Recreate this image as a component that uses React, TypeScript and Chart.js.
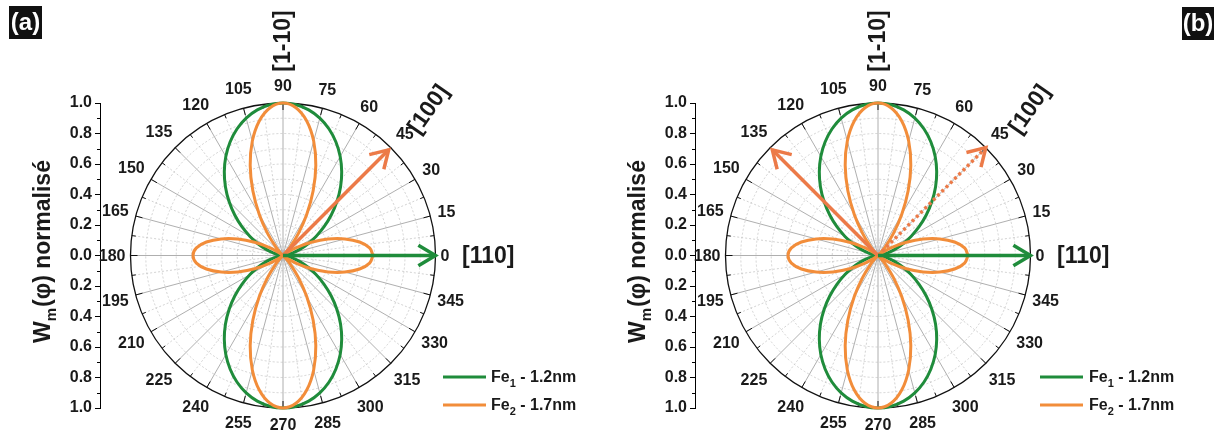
import React, { useEffect, useRef } from 'react';
import { Chart, registerables } from 'chart.js';
Chart.register(...registerables);

// ---------- data ----------
const ANGLES = [0, 5, 10, 15, 20, 25, 30, 35, 40, 45, 50, 55, 60, 65, 70, 75, 80, 85, 90, 95, 100, 105, 110, 115, 120, 125, 130, 135, 140, 145, 150, 155, 160, 165, 170, 175, 180, 185, 190, 195, 200, 205, 210, 215, 220, 225, 230, 235, 240, 245, 250, 255, 260, 265, 270, 275, 280, 285, 290, 295, 300, 305, 310, 315, 320, 325, 330, 335, 340, 345, 350, 355, 360];

const FE1 = [0, 0.008, 0.03, 0.067, 0.117, 0.179, 0.25, 0.329, 0.413, 0.5, 0.587, 0.671, 0.75, 0.821, 0.883, 0.933, 0.97, 0.992, 1.00,
  0.992, 0.97, 0.933, 0.883, 0.821, 0.75, 0.671, 0.587, 0.5, 0.413, 0.329, 0.25, 0.179, 0.117, 0.067, 0.03, 0.008, 0,
  0.008, 0.03, 0.067, 0.117, 0.179, 0.25, 0.329, 0.413, 0.5, 0.587, 0.671, 0.75, 0.821, 0.883, 0.933, 0.97, 0.992, 1.00,
  0.992, 0.97, 0.933, 0.883, 0.821, 0.75, 0.671, 0.587, 0.5, 0.413, 0.329, 0.25, 0.179, 0.117, 0.067, 0.03, 0.008, 0];

const FE2 = [0.59, 0.57, 0.51, 0.42, 0.315, 0.205, 0.106, 0.035, 0.002, 0.014, 0.073, 0.175, 0.311, 0.468, 0.629, 0.777, 0.896, 0.973, 1.00,
  0.973, 0.896, 0.777, 0.629, 0.468, 0.311, 0.175, 0.073, 0.014, 0.002, 0.035, 0.106, 0.205, 0.315, 0.42, 0.51, 0.57, 0.59,
  0.57, 0.51, 0.42, 0.315, 0.205, 0.106, 0.035, 0.002, 0.014, 0.073, 0.175, 0.311, 0.468, 0.629, 0.777, 0.896, 0.973, 1.00,
  0.973, 0.896, 0.777, 0.629, 0.468, 0.311, 0.175, 0.073, 0.014, 0.002, 0.035, 0.106, 0.205, 0.315, 0.42, 0.51, 0.57, 0.59];

const ANGLE_TICKS = [0, 15, 30, 45, 60, 75, 90, 105, 120, 135, 150, 165, 180, 195, 210, 225, 240, 255, 270, 285, 300, 315, 330, 345];
const RINGS = [0.1, 0.2, 0.3, 0.4, 0.5, 0.6, 0.7, 0.8, 0.9];

const SERIES_BASE = ['Fe', 'Fe'];
const SERIES_SUB = ['1', '2'];
const SERIES_REST = [' - 1.2nm', ' - 1.7nm'];

// arrows: angle (deg) and length (r units)
const ARROW_ANGLES_A = [0, 45];
const ARROW_LENGTHS_A = [1.0, 0.98];
const ARROW_ANGLES_B = [0, 135, 45];
const ARROW_LENGTHS_B = [1.0, 0.98, 1.0];

// ---------- styles ----------
const FONT = '"Liberation Sans", Arial, Helvetica, sans-serif';
const TXT = '#1a1a1a';
const GREEN = '#1f8c3b';
const ORANGE = '#f28d3a';
const ARROW_ORANGE = '#ec7a48';

const toXY = (angles: number[], radii: number[]) =>
  angles.map((a, i) => ({ x: radii[i] * Math.cos((a * Math.PI) / 180), y: radii[i] * Math.sin((a * Math.PI) / 180) }));

type PanelCfg = {
  width: number;
  padRight: number;
  label: string;
  labelBox: [number, number, number, number];
  arrowAngles: number[];
  arrowLengths: number[];
  arrowColors: string[];
  arrowDash: number[][];
  legendX: number;
  legendTextX: number;
  diagOffset: [number, number];
};

function makePlugin(cfg: PanelCfg) {
  return {
    id: 'polarDecor',
    beforeDatasetsDraw(chart: any) {
      const ctx = chart.ctx as CanvasRenderingContext2D;
      const xs = chart.scales.x;
      const ys = chart.scales.y;
      const cx = xs.getPixelForValue(0);
      const cy = ys.getPixelForValue(0);
      const R = xs.getPixelForValue(1) - cx;
      ctx.save();
      // rings
      ctx.strokeStyle = '#c8c8c8';
      ctx.lineWidth = 0.8;
      ctx.setLineDash([2, 2]);
      RINGS.forEach((r) => {
        ctx.beginPath();
        ctx.arc(cx, cy, r * R, 0, Math.PI * 2);
        ctx.stroke();
      });
      // minor spokes
      for (let a = 7.5; a < 360; a += 15) {
        const t = (a * Math.PI) / 180;
        ctx.beginPath();
        ctx.moveTo(cx, cy);
        ctx.lineTo(cx + R * Math.cos(t), cy - R * Math.sin(t));
        ctx.stroke();
      }
      ctx.setLineDash([]);
      // major spokes
      ctx.strokeStyle = '#9a9a9a';
      ctx.lineWidth = 0.8;
      ANGLE_TICKS.forEach((a) => {
        const t = (a * Math.PI) / 180;
        ctx.beginPath();
        ctx.moveTo(cx, cy);
        ctx.lineTo(cx + R * Math.cos(t), cy - R * Math.sin(t));
        ctx.stroke();
      });
      // outer circle
      ctx.strokeStyle = '#111';
      ctx.lineWidth = 1.3;
      ctx.beginPath();
      ctx.arc(cx, cy, R, 0, Math.PI * 2);
      ctx.stroke();
      // outer ticks
      ctx.lineWidth = 1;
      for (let a = 0; a < 360; a += 7.5) {
        const t = (a * Math.PI) / 180;
        const len = a % 15 === 0 ? 7 : 4;
        ctx.beginPath();
        ctx.moveTo(cx + R * Math.cos(t), cy - R * Math.sin(t));
        ctx.lineTo(cx + (R - len) * Math.cos(t), cy - (R - len) * Math.sin(t));
        ctx.stroke();
      }
      // angle labels
      ctx.fillStyle = TXT;
      ctx.font = `bold 16px ${FONT}`;
      ctx.textAlign = 'center';
      ctx.textBaseline = 'middle';
      ANGLE_TICKS.forEach((a) => {
        const t = (a * Math.PI) / 180;
        const s = String(a);
        const w = ctx.measureText(s).width;
        const D = R + 5 + Math.abs(Math.cos(t)) * w / 2 + Math.abs(Math.sin(t)) * 12;
        ctx.fillText(s, cx + D * Math.cos(t), cy - D * Math.sin(t) + 1);
      });
      // minor y ticks
      const axX = chart.chartArea.left;
      ctx.strokeStyle = '#000';
      ctx.lineWidth = 1;
      for (let k = -9; k <= 9; k += 2) {
        const py = Math.round(ys.getPixelForValue(k / 10)) + 0.5;
        ctx.beginPath();
        ctx.moveTo(axX - 3, py);
        ctx.lineTo(axX, py);
        ctx.stroke();
      }
      // y title
      ctx.save();
      ctx.translate(axX - 56, cy - 4);
      ctx.rotate(-Math.PI / 2);
      ctx.fillStyle = TXT;
      ctx.textAlign = 'left';
      ctx.textBaseline = 'middle';
      const big = `bold 23px ${FONT}`;
      const small = `bold 15px ${FONT}`;
      ctx.font = big;
      const wW = ctx.measureText('W').width;
      const wRest = ctx.measureText('(φ) normalisé').width;
      ctx.font = small;
      const wm = ctx.measureText('m').width;
      const total = wW + wm + 1 + wRest;
      let x0 = -total / 2;
      ctx.font = big;
      ctx.fillText('W', x0, 0);
      x0 += wW;
      ctx.font = small;
      ctx.fillText('m', x0, 8);
      x0 += wm + 1;
      ctx.font = big;
      ctx.fillText('(φ) normalisé', x0, 0);
      ctx.restore();
      // direction labels
      ctx.font = `bold 23px ${FONT}`;
      ctx.fillStyle = TXT;
      ctx.save();
      ctx.translate(cx, 41);
      ctx.rotate(-Math.PI / 2);
      ctx.textAlign = 'center';
      ctx.textBaseline = 'middle';
      ctx.fillText('[1-10]', 0, 1);
      ctx.restore();
      ctx.textAlign = 'left';
      ctx.textBaseline = 'middle';
      ctx.fillText('[110]', cx + 179, cy + 1);
      ctx.save();
      ctx.translate(cx + cfg.diagOffset[0], cy + cfg.diagOffset[1]);
      ctx.rotate((-55 * Math.PI) / 180);
      ctx.textAlign = 'center';
      ctx.fillText('[100]', 0, 0);
      ctx.restore();
      // panel label
      const [bx, by, bw, bh] = cfg.labelBox;
      ctx.fillStyle = '#111';
      ctx.fillRect(bx, by, bw, bh);
      ctx.fillStyle = '#fff';
      ctx.font = `bold 24px ${FONT}`;
      ctx.textAlign = 'center';
      ctx.textBaseline = 'middle';
      ctx.fillText(cfg.label, bx + bw / 2, by + bh / 2 + 1);
      // legend
      const legendY = [377, 405];
      const colors = [GREEN, ORANGE];
      legendY.forEach((ly, i) => {
        ctx.strokeStyle = colors[i];
        ctx.lineWidth = 3;
        ctx.beginPath();
        ctx.moveTo(cfg.legendX, ly);
        ctx.lineTo(cfg.legendX + 43, ly);
        ctx.stroke();
        ctx.fillStyle = TXT;
        ctx.textAlign = 'left';
        ctx.textBaseline = 'middle';
        ctx.font = `bold 16px ${FONT}`;
        let tx = cfg.legendTextX;
        ctx.fillText(SERIES_BASE[i], tx, ly + 1);
        tx += ctx.measureText(SERIES_BASE[i]).width;
        ctx.font = `bold 11px ${FONT}`;
        ctx.fillText(SERIES_SUB[i], tx, ly + 7);
        tx += ctx.measureText(SERIES_SUB[i]).width;
        ctx.font = `bold 16px ${FONT}`;
        ctx.fillText(SERIES_REST[i], tx, ly + 1);
      });
      ctx.restore();
    },
    afterDatasetsDraw(chart: any) {
      const ctx = chart.ctx as CanvasRenderingContext2D;
      const xs = chart.scales.x;
      const ys = chart.scales.y;
      const cx = xs.getPixelForValue(0);
      const cy = ys.getPixelForValue(0);
      ctx.save();
      cfg.arrowAngles.forEach((a, i) => {
        const t = (a * Math.PI) / 180;
        const L = cfg.arrowLengths[i];
        const tx = xs.getPixelForValue(L * Math.cos(t));
        const ty = ys.getPixelForValue(L * Math.sin(t));
        const dir = Math.atan2(ty - cy, tx - cx);
        const wl = 20;
        const ha = (31 * Math.PI) / 180;
        ctx.strokeStyle = cfg.arrowColors[i];
        ctx.lineWidth = 3.5;
        ctx.lineJoin = 'miter';
        ctx.lineCap = 'butt';
        ctx.beginPath();
        ctx.moveTo(tx - wl * Math.cos(dir - ha), ty - wl * Math.sin(dir - ha));
        ctx.lineTo(tx, ty);
        ctx.lineTo(tx - wl * Math.cos(dir + ha), ty - wl * Math.sin(dir + ha));
        ctx.stroke();
      });
      ctx.restore();
    },
  };
}

function Panel({ cfg, left }: { cfg: PanelCfg; left: number }) {
  const ref = useRef<HTMLCanvasElement | null>(null);
  useEffect(() => {
    if (!ref.current) return;
    const arrowSets = cfg.arrowAngles.map((a, i) => ({
      data: toXY([0, a], [0, cfg.arrowLengths[i]]),
      borderColor: cfg.arrowColors[i],
      borderWidth: 3.5,
      borderDash: cfg.arrowDash[i],
      showLine: true,
      pointRadius: 0,
      clip: false as any,
      tension: 0,
    }));
    const curve = (data: number[], color: string, label: string) => ({
      label,
      data: toXY(ANGLES, data),
      borderColor: color,
      borderWidth: 3,
      showLine: true,
      pointRadius: 0,
      tension: 0.4,
      cubicInterpolationMode: 'default',
      capBezierPoints: false,
      clip: false as any,
    });
    const chart = new Chart(ref.current, {
      type: 'scatter',
      data: {
        datasets: [...arrowSets, curve(FE2, ORANGE, 'Fe2 - 1.7nm'), curve(FE1, GREEN, 'Fe1 - 1.2nm')],
      },
      options: {
        animation: false,
        responsive: false,
        devicePixelRatio: 1,
        layout: { padding: { left: 0, top: 103, right: cfg.padRight, bottom: 24 } },
        plugins: { legend: { display: false }, tooltip: { enabled: false } },
        events: [],
        scales: {
          x: { type: 'linear', min: -1.2, max: 1.3, display: false },
          y: {
            type: 'linear',
            min: -1,
            max: 1,
            position: 'left',
            afterFit: (s: any) => {
              s.width = 100;
            },
            ticks: {
              stepSize: 0.2,
              autoSkip: false,
              padding: 3,
              color: TXT,
              font: { family: FONT, size: 16, weight: 'bold' },
              callback: (v: any) => Math.abs(Number(v)).toFixed(1),
            },
            grid: { display: true, drawOnChartArea: false, drawTicks: true, tickLength: 5, color: '#000', lineWidth: 1 },
            border: { display: true, color: '#000', width: 1 },
          },
        },
      } as any,
      plugins: [makePlugin(cfg)],
    });
    return () => chart.destroy();
  }, [cfg]);
  return (
    <canvas
      ref={ref}
      width={cfg.width}
      height={432}
      style={{ position: 'absolute', left, top: 0, width: cfg.width, height: 432 }}
    />
  );
}

const PANEL_A: PanelCfg = {
  width: 595,
  padRight: 113.75,
  label: '(a)',
  labelBox: [9, 6, 33, 33],
  arrowAngles: ARROW_ANGLES_A,
  arrowLengths: ARROW_LENGTHS_A,
  arrowColors: [GREEN, ARROW_ORANGE],
  arrowDash: [[], []],
  legendX: 443,
  legendTextX: 491,
  diagOffset: [146, -146],
};

const PANEL_B: PanelCfg = {
  width: 624,
  padRight: 142.75,
  label: '(b)',
  labelBox: [587, 7, 32, 33],
  arrowAngles: ARROW_ANGLES_B,
  arrowLengths: ARROW_LENGTHS_B,
  arrowColors: [GREEN, ARROW_ORANGE, ARROW_ORANGE],
  arrowDash: [[], [], [3, 3]],
  legendX: 445,
  legendTextX: 494,
  diagOffset: [152, -146],
};

export default function App() {
  return (
    <div style={{ position: 'absolute', left: 0, top: 0, width: 1219, height: 432, background: '#fff' }}>
      <Panel cfg={PANEL_A} left={0} />
      <Panel cfg={PANEL_B} left={595} />
    </div>
  );
}
